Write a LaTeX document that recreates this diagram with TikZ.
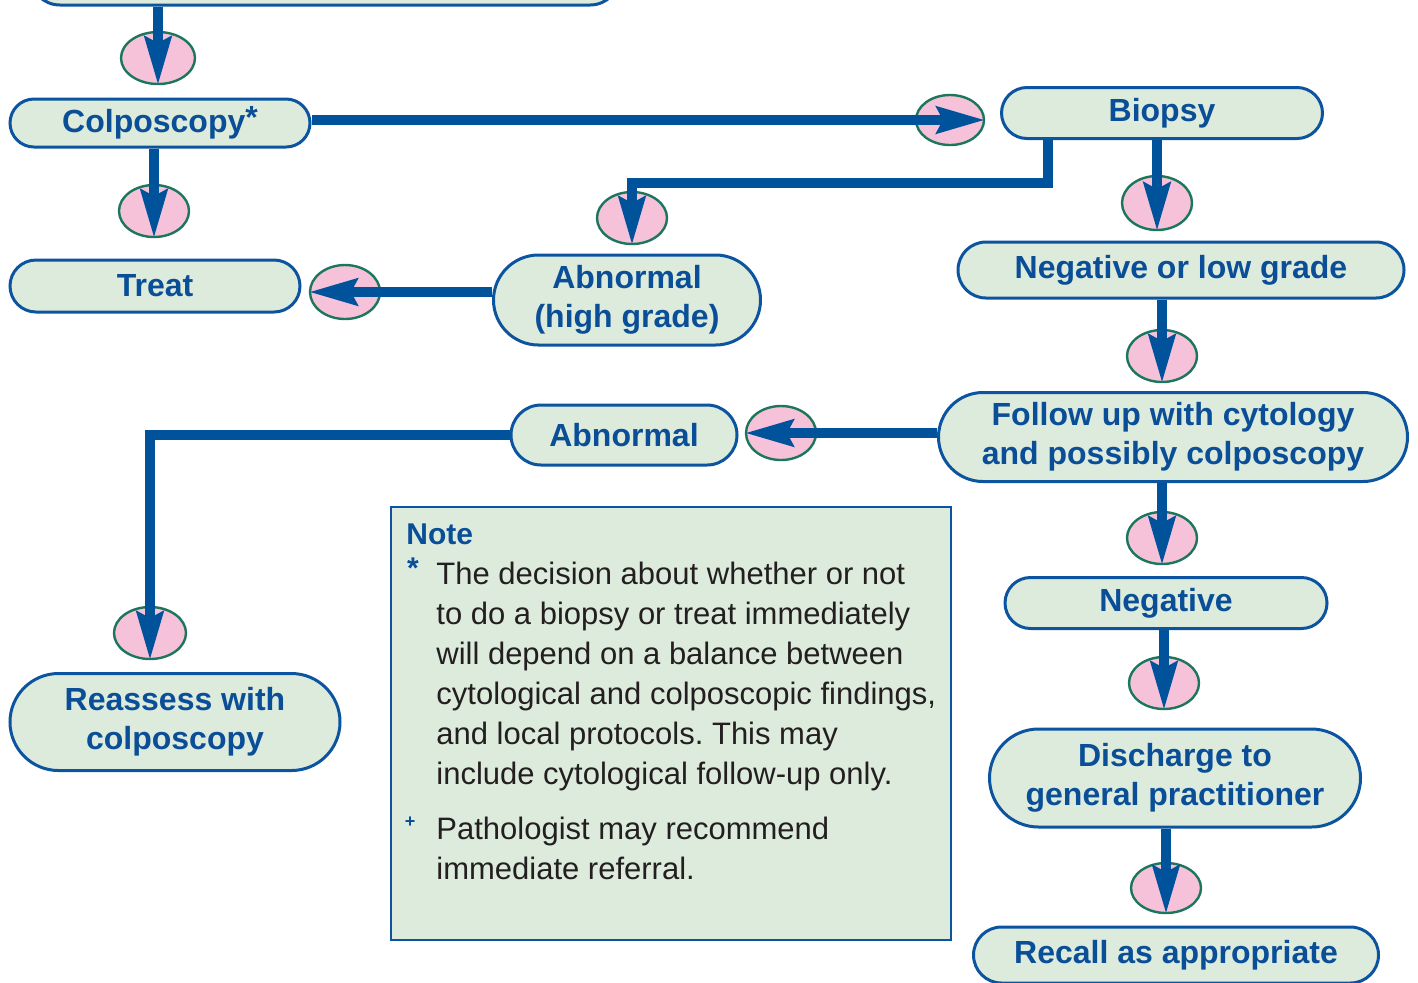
\documentclass[tikz,border=0pt]{standalone}
\usepackage{fontspec}
\setmainfont{Liberation Sans}
\usetikzlibrary{shapes.geometric,shapes.misc,arrows.meta}
\definecolor{boxfill}{RGB}{221,235,220}
\definecolor{boxline}{RGB}{12,84,160}
\definecolor{textblue}{RGB}{10,78,152}
\definecolor{flowblue}{RGB}{0,82,155}
\definecolor{markpink}{RGB}{245,194,218}
\definecolor{markedge}{RGB}{28,118,92}
\definecolor{notetext}{RGB}{35,31,32}
\frenchspacing

\begin{document}
\begin{tikzpicture}[x=0.5pt, y=-0.5pt,
    flowbox/.style={rounded rectangle, draw=boxline, fill=boxfill, line width=1.5pt,
        inner sep=0pt, text=textblue, align=center,
        font=\bfseries\fontsize{16}{19.5}\selectfont},
    marker/.style={ellipse, draw=markedge, fill=markpink, line width=1.2pt, inner sep=0pt},
    flow/.style={draw=flowblue, line width=5pt, -{Stealth[length=24pt,width=13pt,inset=3pt]}},
    notebody/.style={anchor=north west, inner sep=0pt, align=left, text=notetext,
        font=\fontsize{15.5}{20}\selectfont}]
    \useasboundingbox (0,0) rectangle (1418,982);

    % boxes
    \node[flowbox, minimum width=295pt, minimum height=30pt] (start) at (325,-25) {};
    \node[flowbox, minimum width=150pt, minimum height=24pt] (colpo) at (160,123) {Colposcopy\raisebox{2pt}{*}};
    \node[flowbox, minimum width=160.5pt, minimum height=25.5pt] (biopsy) at (1162,113) {Biopsy};
    \node[flowbox, minimum width=145pt, minimum height=26pt] (treat) at (155,286) {Treat};
    \node[flowbox, minimum width=133.5pt, minimum height=45pt] (abnhigh) at (627,300) {Abnormal\\(high grade)};
    \node[flowbox, minimum width=223pt, minimum height=28pt] (neglow) at (1181,270) {Negative or low grade};
    \node[flowbox, minimum width=234.5pt, minimum height=44.5pt] (followup) at (1173,437) {Follow up with cytology\\and possibly colposcopy};
    \node[flowbox, minimum width=113pt, minimum height=30pt] (abnormal) at (624,435) {Abnormal};
    \node[flowbox, minimum width=165pt, minimum height=48.5pt] (reassess) at (175,722) {Reassess with\\colposcopy};
    \node[flowbox, minimum width=161pt, minimum height=25.5pt] (negative) at (1166,603) {Negative};
    \node[flowbox, minimum width=185.5pt, minimum height=49pt] (discharge) at (1175,778) {Discharge to\\general practitioner};
    \node[flowbox, minimum width=202.5pt, minimum height=28pt] (recall) at (1176,955) {Recall as appropriate};

    % markers
    \node[marker, minimum width=37pt, minimum height=26pt] (m1) at (158,58) {};
    \node[marker, minimum width=34pt, minimum height=25pt] (m2) at (950,120) {};
    \node[marker, minimum width=35pt, minimum height=26pt] (m3) at (154,211) {};
    \node[marker, minimum width=35pt, minimum height=27pt] (m4) at (1157,203) {};
    \node[marker, minimum width=35pt, minimum height=26pt] (m5) at (632,218) {};
    \node[marker, minimum width=35pt, minimum height=27pt] (m6) at (345,292) {};
    \node[marker, minimum width=35pt, minimum height=26pt] (m7) at (1162,356) {};
    \node[marker, minimum width=35pt, minimum height=27pt] (m8) at (781,433) {};
    \node[marker, minimum width=36pt, minimum height=26pt] (m9) at (150,633) {};
    \node[marker, minimum width=35pt, minimum height=26pt] (m10) at (1162,538) {};
    \node[marker, minimum width=35pt, minimum height=26pt] (m11) at (1164,683) {};
    \node[marker, minimum width=35pt, minimum height=25pt] (m12) at (1166,888) {};

    % note
    \node[draw=boxline, fill=boxfill, line width=1pt, minimum width=280pt, minimum height=216.5pt,
        inner sep=0pt] (note) at (671,723) {};
    \node[anchor=west, inner sep=0pt, text=textblue, font=\bfseries\fontsize{15}{18}\selectfont]
        (notetitle) at (406,534) {Note};
    \node[inner sep=0pt, text=textblue, font=\bfseries\fontsize{15}{18}\selectfont] (star) at (413,568) {*};
    \node[notebody] (notea) at (436,562) {The decision about whether or not\\to do a biopsy or treat immediately\\will depend on a balance between\\cytological and colposcopic findings,\\and local protocols. This may\\include cytological follow-up only.};
    \node[inner sep=0pt, text=textblue, font=\bfseries\fontsize{9}{10}\selectfont] (plus) at (410,822) {+};
    \node[notebody] (noteb) at (436,817) {Pathologist may recommend\\immediate referral.};

    % connectors
    \coordinate (bend) at (1048,183);
    \draw[flow] (m1 |- start.south) -- (m1.south);
    \draw[flow] (m3 |- colpo.south) -- (m3.south);
    \draw[flow] (colpo.east |- m2) -- (m2.east);
    \draw[flow] (m4 |- biopsy.south) -- (m4.south);
    \draw[flow] (bend |- biopsy.south) -- (bend) -| (m5.south);
    \draw[flow] (abnhigh.west |- m6) -- (m6.west);
    \draw[flow] (m7 |- neglow.south) -- (m7.south);
    \draw[flow] (followup.west |- m8) -- (m8.west);
    \draw[flow] (abnormal.west) -| (m9.south);
    \draw[flow] (m10 |- followup.south) -- (m10.south);
    \draw[flow] (m11 |- negative.south) -- (m11.south);
    \draw[flow] (m12 |- discharge.south) -- (m12.south);
\end{tikzpicture}
\end{document}
